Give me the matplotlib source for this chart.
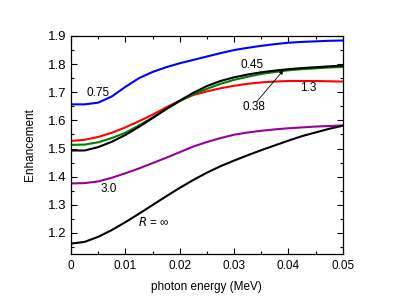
import matplotlib
matplotlib.use("Agg")
import matplotlib.pyplot as plt
from matplotlib.ticker import MultipleLocator, FormatStrFormatter

plt.rcParams['font.family'] = ['Liberation Sans', 'DejaVu Sans']

# photon energy (MeV)
energy = [0.0, 0.0025, 0.005, 0.0075, 0.01, 0.0125, 0.015, 0.0175, 0.02, 0.0225, 0.025,
          0.0275, 0.03, 0.0325, 0.035, 0.0375, 0.04, 0.0425, 0.045, 0.0475, 0.05]

r_075 = [1.657, 1.657, 1.663, 1.685, 1.719, 1.750, 1.772, 1.789, 1.803, 1.815, 1.827,
         1.839, 1.850, 1.858, 1.865, 1.871, 1.876, 1.879, 1.881, 1.883, 1.884]
r_13 = [1.527, 1.531, 1.541, 1.556, 1.575, 1.597, 1.620, 1.646, 1.670, 1.690, 1.703,
        1.714, 1.723, 1.730, 1.735, 1.738, 1.740, 1.740, 1.740, 1.739, 1.738]
r_038 = [1.513, 1.514, 1.522, 1.537, 1.556, 1.582, 1.610, 1.640, 1.668, 1.693, 1.712,
         1.730, 1.744, 1.755, 1.765, 1.772, 1.778, 1.782, 1.785, 1.788, 1.790]
r_045 = [1.493, 1.493, 1.505, 1.524, 1.548, 1.577, 1.608, 1.640, 1.670, 1.698, 1.722,
         1.740, 1.753, 1.763, 1.771, 1.777, 1.782, 1.786, 1.789, 1.792, 1.795]
r_30 = [1.376, 1.377, 1.383, 1.396, 1.412, 1.429, 1.448, 1.467, 1.487, 1.507, 1.523,
        1.537, 1.549, 1.557, 1.563, 1.568, 1.572, 1.575, 1.578, 1.580, 1.582]
r_inf = [1.162, 1.168, 1.186, 1.210, 1.238, 1.268, 1.299, 1.330, 1.360, 1.388, 1.414,
         1.437, 1.457, 1.476, 1.494, 1.511, 1.528, 1.544, 1.557, 1.570, 1.581]

fig = plt.figure(figsize=(3.99, 3.06), dpi=100)
ax = fig.add_axes([71/399, 1-254/306, (342.7-71)/399, (254-36)/306])

lw = 1.5
ax.plot(energy, r_075, color="#0000ff", lw=lw)
ax.plot(energy, r_13, color="#ff0000", lw=lw)
ax.plot(energy, r_038, color="#008000", lw=lw)
ax.plot(energy, r_045, color="black", lw=lw)
ax.plot(energy, r_30, color="#990099", lw=lw)
ax.plot(energy, r_inf, color="black", lw=lw)

fs = 8.5
ax.text(0.005, 1.699, "0.75", fontsize=fs, ha="center", va="center")
ax.text(0.0333, 1.797, "0.45", fontsize=fs, ha="center", va="center")
ax.text(0.0436, 1.716, "1.3", fontsize=fs, ha="center", va="center")
ax.text(0.0337, 1.648, "0.38", fontsize=fs, ha="center", va="center")
ax.text(0.007, 1.356, "3.0", fontsize=fs, ha="center", va="center")
ax.text(0.0153, 1.238, "$\\it{R}$ = ∞", fontsize=fs, ha="center", va="center")
ax.annotate("", xy=(0.0391, 1.779), xytext=(0.0342, 1.667),
            arrowprops=dict(arrowstyle="-|>", color="black", lw=0.6,
                            mutation_scale=6, shrinkA=0, shrinkB=0))

ax.set_xlim(0, 0.05)
ax.set_ylim(1.125, 1.9)
ax.xaxis.set_major_locator(MultipleLocator(0.01))
ax.xaxis.set_minor_locator(MultipleLocator(0.005))
ax.yaxis.set_major_locator(MultipleLocator(0.1))
ax.yaxis.set_minor_locator(MultipleLocator(0.05))
ax.xaxis.set_major_formatter(plt.FuncFormatter(lambda v, p: "0" if abs(v) < 1e-9 else "%.2f" % v))
ax.yaxis.set_major_formatter(FormatStrFormatter("%.1f"))
ax.tick_params(which="both", direction="in", top=True, right=True, width=0.8)
ax.tick_params(axis="x", labelsize=8.5, pad=4)
ax.tick_params(axis="y", labelsize=9.5, pad=3)
ax.tick_params(which="major", length=4)
ax.tick_params(which="minor", length=2)
for s in ax.spines.values():
    s.set_linewidth(0.9)

ax.set_xlabel("photon energy (MeV)", fontsize=8.5, labelpad=7)
ax.set_ylabel("Enhancement", fontsize=8.5, labelpad=9)

plt.savefig("out.png", dpi=100)
